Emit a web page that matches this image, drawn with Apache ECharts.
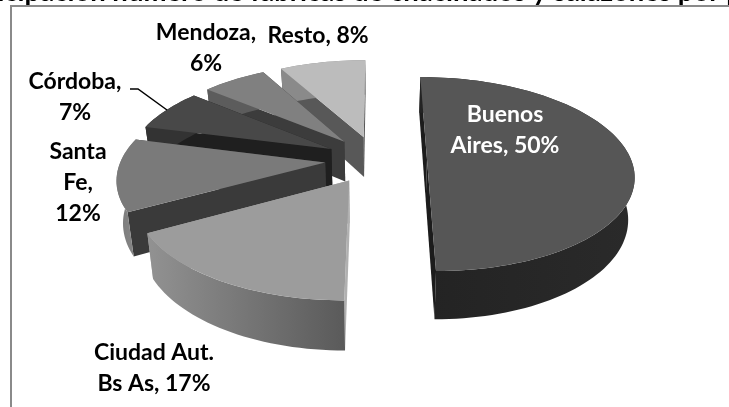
<!DOCTYPE html>
<html>
<head>
<meta charset="utf-8">
<style>html,body{margin:0;padding:0;background:#fff;overflow:hidden}#chart{width:729px;height:407px}</style>
<script src="https://cdn.jsdelivr.net/npm/echarts@6/dist/echarts.min.js"></script>
</head>
<body>
<div id="chart"></div>
<script>
// datos
var categories = ['Buenos Aires', 'Ciudad Aut. Bs As', 'Santa Fe', 'Córdoba', 'Mendoza', 'Resto'];
var values = [50, 17, 12, 7, 6, 8];
var labels = ['Buenos\nAires, 50%', 'Ciudad Aut.\nBs As, 17%', 'Santa\nFe,\n12%', 'Córdoba,\n7%', 'Mendoza,\n6%', 'Resto, 8%'];

// colores: tapa, pared radial, pared exterior (gradiente)
var topColors = ['#565656', '#9c9c9c', '#7a7a7a', '#484848', '#808080', '#bcbcbc'];
var radialColors = ['#1c1c1c', '#b0b0b0', '#3a3a3a', '#1f1f1f', '#3c3c3c', '#585858'];
var outerFrom = ['#232323', '#929292', '#7a7a7a', '#333333', '#5c5c5c', '#8a8a8a'];
var outerTo = ['#2a2a2a', '#5a5a5a', '#8a8a8a', '#333333', '#5c5c5c', '#8a8a8a'];
var labelPos = [[505, 130], [154, 368], [78, 183], [75, 97], [206, 48], [318, 36]];
var labelColors = ['#fff', '#000', '#000', '#000', '#000', '#000'];
var paintOrder = [5, 4, 3, 0, 2, 1];

// geometria de la torta 3D (proyeccion en perspectiva del plano del disco)
var cx = 376, cy = 159.5, rx = 204, ry = 94.8, persp = 0.15, depth = 41, explode = 0.25;
var firstAngle = 0;
var shrink = 0.975;

function project(u, v, low) {
    var s = 1 / (1 - persp * v);
    var x = rx * u * s, y = ry * v * s;
    if (low) { x *= shrink; y += depth * s; }
    return [cx + x, cy + y];
}

var total = values.reduce(function (a, b) { return a + b; }, 0);
var startAngles = [];
values.reduce(function (acc, v, i) {
    startAngles[i] = firstAngle + acc / total * 360;
    return acc + v;
}, 0);

function sliceItem(params, api) {
    var i = api.value(0), val = api.value(1);
    var a0 = startAngles[i] * Math.PI / 180;
    var a1 = a0 + val / total * 2 * Math.PI;
    var mid = (a0 + a1) / 2;
    var ou = Math.sin(mid) * explode, ov = -Math.cos(mid) * explode;
    var steps = Math.max(8, Math.round(val * 2));
    var arc = [], arcLow = [];
    for (var k = 0; k <= steps; k++) {
        var t = a0 + (a1 - a0) * k / steps;
        var u = ou + Math.sin(t), v = ov - Math.cos(t);
        arc.push(project(u, v, false));
        arcLow.push(project(u, v, true));
    }
    var apex = project(ou, ov, false), apexLow = project(ou, ov, true);
    var children = [];
    var z = paintOrder.indexOf(i) * 10;
    // paredes radiales
    children.push({
        type: 'polygon', z2: z,
        shape: { points: [apex, apexLow, arcLow[steps], arc[steps]] },
        style: { fill: radialColors[i] }
    });
    children.push({
        type: 'polygon', z2: z,
        shape: { points: [apex, apexLow, arcLow[0], arc[0]] },
        style: { fill: radialColors[i] }
    });
    // pared exterior
    children.push({
        type: 'polygon', z2: z + 1,
        shape: { points: arc.concat(arcLow.slice().reverse()) },
        style: {
            fill: new echarts.graphic.LinearGradient(0, 0, 1, 0, [
                { offset: 0, color: outerFrom[i] },
                { offset: 1, color: outerTo[i] }
            ])
        }
    });
    // tapa
    children.push({
        type: 'polygon', z2: z + 2,
        shape: { points: [apex].concat(arc) },
        style: { fill: topColors[i] }
    });
    children.push({
        type: 'text', z2: 100,
        style: {
            x: labelPos[i][0], y: labelPos[i][1],
            text: labels[i],
            fill: labelColors[i],
            font: 'bold 23px Lato',
            lineHeight: 31,
            align: 'center', verticalAlign: 'middle'
        }
    });
    return { type: 'group', children: children };
}

var myChart = echarts.init(document.getElementById('chart'), null, { renderer: 'canvas' });
var option = {
    animation: false,
    backgroundColor: '#fff',
    graphic: [
        { type: 'text', z: 10, style: { x: 392, y: -8, text: 'Participación número de fábricas de chacinados y salazones por provincia', font: 'bold 27.5px Lato', fill: '#000', align: 'center', verticalAlign: 'middle' } },
        { type: 'polyline', z: 10, shape: { points: [[729, 6], [11, 6], [11, 407]] }, style: { stroke: '#8a8a8a', lineWidth: 2, fill: null } },
        { type: 'polyline', z: 10, shape: { points: [[130, 89], [138, 89], [167, 110]] }, style: { stroke: '#000', lineWidth: 1.5, fill: null } }
    ],
    series: [{
        type: 'custom',
        coordinateSystem: 'none',
        renderItem: sliceItem,
        data: values.map(function (v, i) { return [i, v, categories[i]]; })
    }]
};
myChart.setOption(option, true);
</script>
</body>
</html>
